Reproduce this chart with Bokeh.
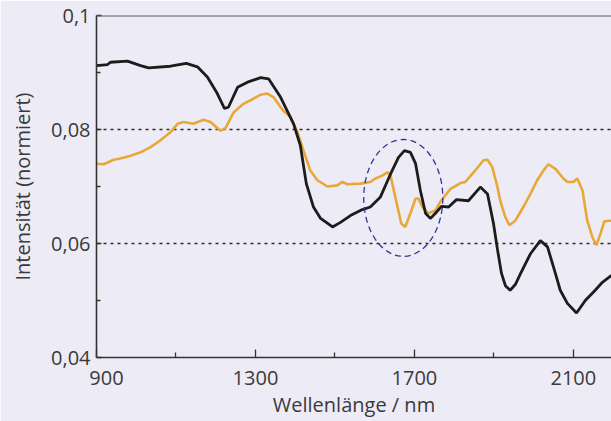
from bokeh.plotting import figure
from bokeh.models import FixedTicker, Range1d, Span
from bokeh.embed import file_html
from bokeh.resources import INLINE

# Wavelength (nm) and normalized intensity
black_nm = [900, 928, 935, 978, 1011, 1031, 1086, 1126, 1154, 1179, 1204, 1222, 1232, 1255, 1280,
            1313, 1333, 1363, 1396, 1413, 1428, 1446, 1464, 1494, 1514, 1539, 1564, 1589, 1614,
            1640, 1660, 1675, 1690, 1703, 1715, 1728, 1740, 1753, 1768, 1786, 1806, 1836, 1866,
            1884, 1899, 1909, 1919, 1929, 1941, 1954, 1967, 1992, 2017, 2035, 2055, 2067, 2085,
            2108, 2130, 2155, 2173, 2196]
black_val = [0.0912, 0.0914, 0.0918, 0.0920, 0.0912, 0.0908, 0.0911, 0.0916, 0.0910, 0.0892,
             0.0863, 0.0837, 0.0839, 0.0874, 0.0883, 0.0891, 0.0889, 0.0857, 0.0810, 0.0772,
             0.0705, 0.0664, 0.0644, 0.0629, 0.0637, 0.0649, 0.0658, 0.0664, 0.0681, 0.0722,
             0.0751, 0.0763, 0.0760, 0.0740, 0.0693, 0.0653, 0.0644, 0.0653, 0.0665, 0.0664,
             0.0677, 0.0675, 0.0699, 0.0687, 0.0635, 0.0590, 0.0548, 0.0526, 0.0518, 0.0528,
             0.0547, 0.0582, 0.0605, 0.0594, 0.0547, 0.0518, 0.0495, 0.0478, 0.0500, 0.0518,
             0.0532, 0.0544]

gold_nm = [900, 918, 943, 960, 986, 1011, 1036, 1061, 1086, 1104, 1119, 1144, 1169, 1187, 1212,
           1225, 1245, 1270, 1295, 1313, 1330, 1345, 1370, 1388, 1406, 1421, 1438, 1456, 1481,
           1506, 1519, 1531, 1564, 1589, 1602, 1619, 1632, 1640, 1652, 1667, 1677, 1690, 1703,
           1710, 1720, 1735, 1753, 1765, 1791, 1816, 1828, 1853, 1874, 1884, 1896, 1909, 1916,
           1929, 1939, 1954, 1974, 1992, 2009, 2025, 2037, 2055, 2075, 2085, 2100, 2110, 2123,
           2135, 2148, 2158, 2168, 2178, 2196]
gold_val = [0.0740, 0.0739, 0.0747, 0.0749, 0.0754, 0.0760, 0.0769, 0.0781, 0.0795, 0.0810,
            0.0813, 0.0810, 0.0817, 0.0813, 0.0798, 0.0803, 0.0830, 0.0845, 0.0854, 0.0861,
            0.0863, 0.0857, 0.0833, 0.0822, 0.0795, 0.0763, 0.0728, 0.0711, 0.0700, 0.0702,
            0.0708, 0.0704, 0.0705, 0.0708, 0.0714, 0.0719, 0.0725, 0.0719, 0.0681, 0.0635,
            0.0629, 0.0653, 0.0679, 0.0679, 0.0664, 0.0653, 0.0658, 0.0673, 0.0696, 0.0706,
            0.0708, 0.0728, 0.0746, 0.0747, 0.0734, 0.0699, 0.0675, 0.0646, 0.0632, 0.0640,
            0.0664, 0.0687, 0.0711, 0.0728, 0.0739, 0.0731, 0.0714, 0.0708, 0.0708, 0.0714,
            0.0693, 0.0640, 0.0611, 0.0597, 0.0617, 0.0639, 0.0640]

x_ticks = [900, 1300, 1700, 2100]
x_minor = [1100, 1500, 1900]
x_labels = {900: "\u2003900", 1300: "1300", 1700: "1700", 2100: "2100"}
y_ticks = [0.04, 0.06, 0.08, 0.1]
y_minor = [0.05, 0.07, 0.09]
y_labels = {0.04: "0,04", 0.06: "0,06", 0.08: "0,08", 0.1: "0,1"}

# Highlight ellipse (center nm, center value, width nm, height value)
ell_x, ell_y, ell_w, ell_h = 1672, 0.0680, 199, 0.0205

BG = "#edecf6"
TXT = "#3a3a3a"
FONT = "Open Sans"

p = figure(width=611, height=421, output_backend="svg", toolbar_location=None,
           x_range=Range1d(900, 2196), y_range=Range1d(0.04, 0.1),
           min_border_left=96, min_border_right=0, min_border_top=15, min_border_bottom=64)
p.background_fill_color = BG
p.border_fill_color = BG
p.outline_line_color = None

p.xgrid.grid_line_color = None
p.ygrid.ticker = FixedTicker(ticks=[0.06, 0.08])
p.ygrid.grid_line_color = "#2a2a2a"
p.ygrid.grid_line_dash = "3 4"
p.ygrid.grid_line_width = 1.5

for ax in (p.xaxis[0], p.yaxis[0]):
    ax.axis_line_color = "#333333"
    ax.axis_line_width = 1.6
    ax.major_tick_line_color = "#333333"
    ax.minor_tick_line_color = "#333333"
    ax.major_tick_line_width = 1.3
    ax.minor_tick_line_width = 1.3
    ax.major_tick_out = 0
    ax.minor_tick_out = 0
    ax.major_label_text_font = FONT
    ax.major_label_text_font_size = "20px"
    ax.major_label_text_color = TXT
    ax.axis_label_text_font = FONT
    ax.axis_label_text_font_size = "20px"
    ax.axis_label_text_font_style = "normal"
    ax.axis_label_text_color = TXT

p.xaxis.ticker = FixedTicker(ticks=x_ticks, minor_ticks=x_minor)
p.xaxis.major_label_overrides = x_labels
p.xaxis.major_tick_in = 8
p.xaxis.minor_tick_in = 5
p.xaxis.major_label_standoff = 6
p.xaxis.axis_label = "Wellenlänge / nm"
p.xaxis.axis_label_standoff = -3

p.yaxis.ticker = FixedTicker(ticks=y_ticks, minor_ticks=y_minor)
p.yaxis.major_label_overrides = y_labels
p.yaxis.major_tick_in = 5
p.yaxis.minor_tick_in = 4
p.yaxis.major_label_standoff = 6
p.yaxis.axis_label = "Intensität (normiert)"
p.yaxis.axis_label_standoff = 12

p.add_layout(Span(location=0.1, dimension="width", line_color="#5a5a5a", line_width=2))

p.line(gold_nm, gold_val, line_color="#e8a838", line_width=2.6)
p.line(black_nm, black_val, line_color="#1c1c1c", line_width=2.8)

p.ellipse(x=[ell_x], y=[ell_y], width=ell_w, height=ell_h, fill_color=None,
          line_color="#33358f", line_width=1.3, line_dash="6 4")

open("out.html", "w").write(file_html(p, INLINE))
